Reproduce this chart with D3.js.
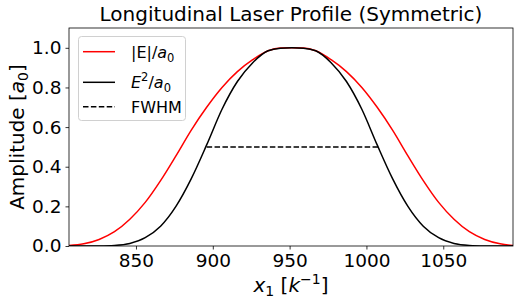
<!DOCTYPE html>
<html>
<head>
<meta charset="utf-8">
<script src="https://cdn.jsdelivr.net/npm/d3@7"></script>
<style>
  body { margin: 0; background: #fff; }
  text { font-family: "DejaVu Sans", sans-serif; fill: #000; }
</style>
</head>
<body>
<div id="chart"></div>
<script>
'use strict';

const xs = [806, 816, 826, 836, 846, 856, 866, 876, 886, 896, 906, 916, 926, 936, 944,
  951.5, 959, 967, 977, 987, 997, 1007, 1017, 1027, 1037, 1047, 1057, 1067, 1077, 1087, 1097];

// |E|/a0
const absE = [0.002, 0.011, 0.033, 0.072, 0.135, 0.22, 0.33, 0.455, 0.585, 0.70, 0.80, 0.88, 0.94, 0.985, 0.999,
  1.0, 0.999, 0.985, 0.94, 0.88, 0.80, 0.70, 0.585, 0.455, 0.33, 0.22, 0.135, 0.072, 0.033, 0.011, 0.002];

// E^2/a0
const sqE = [0.0, 0.0, 0.0005, 0.003, 0.013, 0.042, 0.10, 0.20, 0.34, 0.51, 0.69, 0.83, 0.925, 0.985, 0.998,
  1.0, 0.998, 0.985, 0.925, 0.83, 0.69, 0.51, 0.34, 0.20, 0.10, 0.042, 0.013, 0.003, 0.0005, 0.0, 0.0];

const fwhmX = [896, 1008];
const fwhmY = 0.5;

const xTicks = [850, 900, 950, 1000, 1050];
const yTicks = [0.0, 0.2, 0.4, 0.6, 0.8, 1.0];

const m = { width: 526, height: 307, left: 69, right: 513, top: 28, bottom: 246 };

const svg = d3.select('#chart')
  .append('svg')
  .attr('width', m.width)
  .attr('height', m.height);

svg.append('rect')
  .attr('width', m.width)
  .attr('height', m.height)
  .attr('fill', '#fff');

let xScale = d3.scaleLinear()
  .domain([806.4, 1095.4])
  .range([m.left, m.right]);

let yScale = d3.scaleLinear()
  .domain([0, 1.1])
  .range([m.bottom, m.top]);

svg.append('clipPath')
  .attr('id', 'clip')
  .append('rect')
  .attr('x', m.left)
  .attr('y', m.top)
  .attr('width', m.right - m.left)
  .attr('height', m.bottom - m.top);

let plot = svg.append('g').attr('clip-path', 'url(#clip)');

let line = d3.line()
  .x(function(d) { return xScale(d[0]); })
  .y(function(d) { return yScale(d[1]); })
  .curve(d3.curveMonotoneX);

plot.append('path')
  .datum(xs.map((x, i) => [x, absE[i]]))
  .attr('d', line)
  .attr('fill', 'none')
  .attr('stroke', '#ff0000')
  .attr('stroke-width', 1.5);

plot.append('path')
  .datum(xs.map((x, i) => [x, sqE[i]]))
  .attr('d', line)
  .attr('fill', 'none')
  .attr('stroke', '#000')
  .attr('stroke-width', 1.5);

plot.append('line')
  .attr('x1', xScale(fwhmX[0]))
  .attr('x2', xScale(fwhmX[1]))
  .attr('y1', yScale(fwhmY))
  .attr('y2', yScale(fwhmY))
  .attr('stroke', '#000')
  .attr('stroke-width', 1.5)
  .attr('stroke-dasharray', '5.5,2.4');

// axes
let xAxis = d3.axisBottom(xScale).tickValues(xTicks).tickSize(3.5).tickPadding(4)
  .tickFormat(d3.format('d'));
let gx = svg.append('g')
  .attr('transform', 'translate(0,' + m.bottom + ')')
  .call(xAxis);

let yAxis = d3.axisLeft(yScale).tickValues(yTicks).tickSize(3.5).tickPadding(4)
  .tickFormat(d3.format('.1f'));
let gy = svg.append('g')
  .attr('transform', 'translate(' + m.left + ',0)')
  .call(yAxis);

[gx, gy].forEach(function(g) {
  g.select('.domain').remove();
  g.selectAll('.tick line').attr('stroke', '#000').attr('stroke-width', 0.8);
  g.selectAll('.tick text')
    .attr('font-family', 'DejaVu Sans')
    .style('font-size', '18.5px')
    .attr('fill', '#000');
});
gx.selectAll('.tick text').attr('dy', '0.71em').attr('y', 7.5);

// frame
svg.append('rect')
  .attr('x', m.left)
  .attr('y', m.top)
  .attr('width', m.right - m.left)
  .attr('height', m.bottom - m.top)
  .attr('fill', 'none')
  .attr('stroke', '#000')
  .attr('stroke-width', 0.8);

// title and labels
svg.append('text')
  .attr('x', (m.left + m.right) / 2)
  .attr('y', 21)
  .attr('text-anchor', 'middle')
  .style('font-size', '20px')
  .text('Longitudinal Laser Profile (Symmetric)');

let xl = svg.append('text')
  .attr('x', (m.left + m.right) / 2)
  .attr('y', 292)
  .attr('text-anchor', 'middle')
  .style('font-size', '20px');
xl.append('tspan').style('font-style', 'italic').text('x');
xl.append('tspan').attr('dy', 4).style('font-size', '14px').text('1');
xl.append('tspan').attr('dy', -4).text(' [');
xl.append('tspan').style('font-style', 'italic').text('k');
xl.append('tspan').attr('dy', -8).style('font-size', '14px').text('\u22121');
xl.append('tspan').attr('dy', 8).text(']');

let yl = svg.append('text')
  .attr('transform', 'translate(24,' + (m.top + m.bottom) / 2 + ')rotate(-90)')
  .attr('text-anchor', 'middle')
  .style('font-size', '20px');
yl.append('tspan').text('Amplitude [');
yl.append('tspan').style('font-style', 'italic').text('a');
yl.append('tspan').attr('dy', 4).style('font-size', '14px').text('0');
yl.append('tspan').attr('dy', -4).text(']');

// legend
let legend = svg.append('g');
legend.append('rect')
  .attr('x', 78.5)
  .attr('y', 36.5)
  .attr('width', 107)
  .attr('height', 84)
  .attr('rx', 3)
  .attr('fill', '#fff')
  .attr('fill-opacity', 0.8)
  .attr('stroke', '#d0d0d0')
  .attr('stroke-width', 1);

const legendRows = [
  { y: 51.7, color: '#ff0000', dash: null },
  { y: 82.3, color: '#000', dash: null },
  { y: 106.7, color: '#000', dash: '5.5,2.4' }
];

legend.selectAll('.lline')
  .data(legendRows)
  .enter()
  .append('line')
  .attr('x1', 83)
  .attr('x2', 115)
  .attr('y1', d => d.y)
  .attr('y2', d => d.y)
  .attr('stroke', d => d.color)
  .attr('stroke-width', 1.5)
  .attr('stroke-dasharray', d => d.dash);

let t1 = legend.append('text').attr('x', 131).attr('y', 57.5).style('font-size', '16px');
t1.append('tspan').text('|E|/');
t1.append('tspan').style('font-style', 'italic').text('a');
t1.append('tspan').attr('dy', 4).style('font-size', '11.5px').text('0');

let t2 = legend.append('text').attr('x', 131).attr('y', 88).style('font-size', '16px');
t2.append('tspan').style('font-style', 'italic').text('E');
t2.append('tspan').attr('dy', -7).style('font-size', '11.5px').text('2');
t2.append('tspan').attr('dy', 7).text('/');
t2.append('tspan').style('font-style', 'italic').text('a');
t2.append('tspan').attr('dy', 4).style('font-size', '11.5px').text('0');

legend.append('text').attr('x', 131).attr('y', 112.5).style('font-size', '16px').text('FWHM');
</script>
</body>
</html>
